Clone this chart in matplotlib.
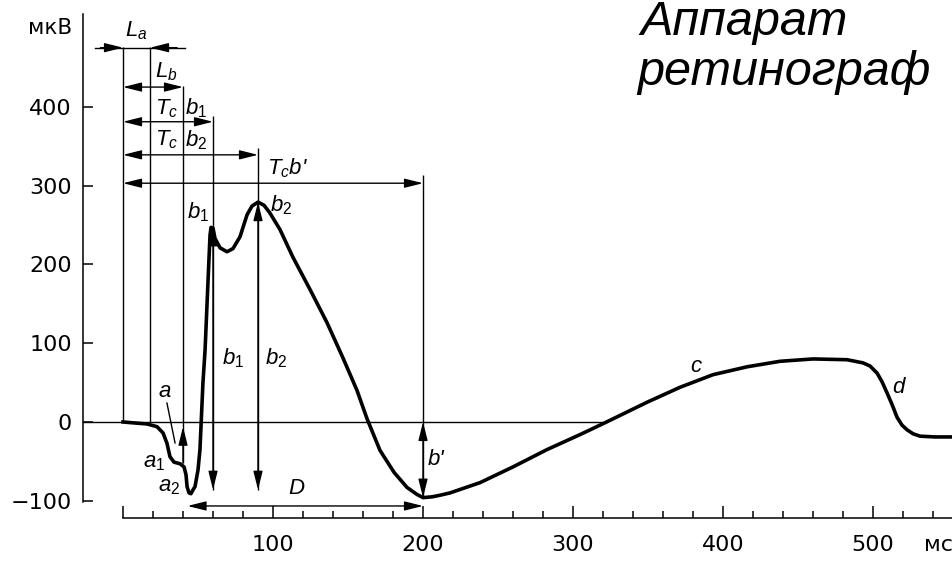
import matplotlib
matplotlib.use("Agg")
import matplotlib.pyplot as plt

plt.rcParams['mathtext.fontset'] = 'custom'
plt.rcParams['mathtext.it'] = 'Liberation Sans:italic'
plt.rcParams['mathtext.rm'] = 'Liberation Sans'
plt.rcParams['font.family'] = ['DejaVu Sans']

# ERG waveform (ms, microvolts)
time_ms = [0, 6, 16, 22.7, 26.7, 29.3, 31.3, 34, 38, 40.7,
           42, 42.7, 44, 45.3, 46.7, 48, 50, 51.3, 53.3, 54.7,
           56.7, 58, 58.7, 60, 61.3, 64.7, 69.3, 73.3, 78, 82.7,
           86, 90, 94, 98, 104.7, 113.3, 124.7, 136, 146.7, 156,
           162.7, 171.3, 180.7, 189.3, 196, 200, 206, 211.3, 218, 238,
           260, 282.7, 304.7, 321.3, 349.3, 371.3, 393.3, 416, 438, 460,
           482.7, 493.3, 498, 502.7, 506, 509.3, 512.7, 516, 519.3, 522.7,
           526.7, 531.3, 541.3, 553]
erg_uv = [0, -1, -2.5, -6, -14, -27, -44, -51, -53, -57,
          -67, -82, -90, -91, -86, -82, -61, -35, 50, 91,
          180, 237, 247, 246, 233, 221, 216, 220, 235, 263,
          274, 279, 275, 265, 244, 209, 168, 126, 81, 40,
          4, -36, -64, -83, -92, -96, -95, -93, -90, -77,
          -57, -35, -16, -1, 25, 44, 60, 70, 77, 80,
          79, 75, 71, 62, 51, 37, 22, 6, -4, -10,
          -15, -18, -19, -19]

# timing marks (ms) and amplitudes (uV)
t_stim = 0
t_la = 18
t_lb = 40
t_b1 = 60
t_b2 = 90
t_bp = 200
t_zero_cross = 321.3
t_d_start = 43
a1_level = -52
a_tip = -6
trough_level = -86
b1_peak = 247
b2_peak = 279
bp_min = -96

yticks = [-100, 0, 100, 200, 300, 400]
xticks = [0, 100, 200, 300, 400, 500]
xtick_labels = ['', '100', '200', '300', '400', '500']

fig = plt.figure(figsize=(9.53, 5.62), dpi=100)
ax = fig.add_axes([0, 0, 1, 1])
ax.set_xlim(-82, 553.3)
ax.set_ylim(-177.7, 535.5)

for s in ['top', 'right']:
    ax.spines[s].set_visible(False)
ax.spines['left'].set_position(('data', -26.7))
ax.spines['left'].set_bounds(-101, 518)
ax.spines['bottom'].set_position(('data', -121.8))
ax.spines['bottom'].set_bounds(0, 560)
for s in ['left', 'bottom']:
    ax.spines[s].set_linewidth(1.1)

ax.set_yticks(yticks)
ax.tick_params(axis='y', direction='in', length=7, width=1.1, pad=8, labelsize=16)
ax.set_xticks(xticks, xtick_labels)
ax.set_xticks(range(0, 560, 20), minor=True)
ax.tick_params(axis='x', which='major', direction='in', length=9, width=1.1, pad=12, labelsize=16)
ax.tick_params(axis='x', which='minor', direction='in', length=5, width=1.1)

ax.text(-34, 500, 'мкВ', ha='right', va='center', fontsize=15.5)
ax.text(534, -156, 'мс', ha='left', va='center', fontsize=16)

# main curve and baseline
ax.plot([-26.7, t_zero_cross], [0, 0], color='black', lw=1)
ax.plot(time_ms, erg_uv, color='black', lw=2.6, solid_joinstyle='round', zorder=5)

# vertical reference lines
ax.vlines(t_stim, 0, 476, color='black', lw=1)
ax.vlines(t_la, 0, 476, color='black', lw=1)
ax.vlines(t_lb, a1_level, 426, color='black', lw=1)
ax.vlines(t_b1, trough_level, 388, color='black', lw=1)
ax.vlines(t_b2, trough_level, 348, color='black', lw=1)
ax.vlines(t_bp, bp_min, 313, color='black', lw=1)

head = '-|>,head_length=0.8,head_width=0.2'
dhead = '<|-|>,head_length=0.8,head_width=0.2'


def arrow(x0, y0, x1, y1, style=head):
    ax.annotate('', xy=(x1, y1), xytext=(x0, y0),
                arrowprops=dict(arrowstyle=style, mutation_scale=14, lw=1,
                                color='black', shrinkA=0, shrinkB=0))


# L_a: outside arrows
ax.plot([-19, 41], [475, 475], color='black', lw=1)
arrow(-15, 475, t_stim, 475)
arrow(36, 475, t_la, 475)
# double-headed dimension lines
arrow(t_stim, 425, t_lb, 425, dhead)
arrow(t_stim, 381, t_b1, 381, dhead)
arrow(t_stim, 339, t_b2, 339, dhead)
arrow(t_stim, 303, t_bp, 303, dhead)
# amplitudes
arrow(t_lb, a1_level, t_lb, a_tip)
arrow(t_b1, trough_level, t_b1, b1_peak, dhead)
arrow(t_b2, trough_level, t_b2, b2_peak, dhead)
arrow(t_bp, 0, t_bp, bp_min, dhead)
arrow(t_d_start, -106.6, t_bp, -106.6, dhead)
# leader for "a"
ax.plot([29.3, 34.7], [24, -26.6], color='black', lw=1)

lab = dict(fontsize=16, va='center', ha='left', family='Liberation Sans', style='italic')
ax.text(1.3, 497, '$L_a$', **lab)
ax.text(21.3, 444, '$L_b$', **lab)
ax.text(21.3, 398, '$T_c$', **lab)
ax.text(41.3, 398, '$b_1$', **lab)
ax.text(21.3, 358, '$T_c$', **lab)
ax.text(41.3, 358, '$b_2$', **lab)
ax.text(96, 322, "$T_c$b'", **lab)
ax.text(42.7, 266, '$b_1$', **lab)
ax.text(98, 275, '$b_2$', **lab)
ax.text(66, 81, '$b_1$', **lab)
ax.text(94.7, 81, '$b_2$', **lab)
ax.text(23.5, 39, 'a', **lab)
ax.text(13.3, -51, '$a_1$', **lab)
ax.text(23.3, -82, '$a_2$', **lab)
ax.text(203.3, -48, "b'", **lab)
ax.text(110, -84, 'D', **lab)
ax.text(378, 70, 'c', **lab)
ax.text(513, 44, 'd', **lab)

title = dict(family='Liberation Sans', style='italic', fontsize=35, va='baseline', ha='left')
fig.text(640 / 953, 1 - 35 / 562, 'Аппарат', **title)
fig.text(637 / 953, 1 - 85 / 562, 'ретинограф', **title)

fig.savefig('out.png', dpi=100, facecolor='white')
